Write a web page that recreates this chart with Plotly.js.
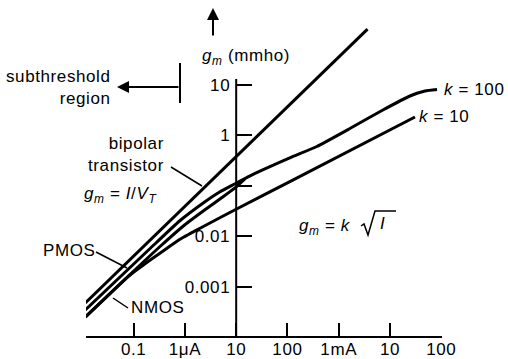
<!DOCTYPE html>
<html>
<head>
<meta charset="utf-8">
<script src="https://cdn.plot.ly/plotly-3.0.1.min.js"></script>
<style>html,body{margin:0;padding:0;background:#fff;}#chart{width:508px;height:359px;}</style>
</head>
<body>
<div id="chart"></div>
<script>
// Drain / collector current in µA, transconductance in mmho
var bipolarI = [0.0114, 3650];
var bipolarGm = [0.00048, 127];

// PMOS subthreshold curve continuing into the k = 100 square-law curve
var pmosI = [0.0114, 0.204, 0.785, 2.42, 4.75, 9.33];
var pmosGm = [0.00035, 0.0056, 0.0201, 0.0478, 0.0754, 0.1086];
var k100I = [18.3, 111, 374, 1650, 7280, 24500, 48200, 82800];
var k100Gm = [0.156, 0.356, 0.600, 1.36, 3.17, 6.0, 7.54, 8.07];

var nmosI = [0.0114, 0.0828, 0.319, 0.984, 2.42, 5.2, 9.33, 14.6];
var nmosGm = [0.000252, 0.00171, 0.00614, 0.01675, 0.0332, 0.058, 0.090, 0.136];

var k10I = [0.0114, 0.0757, 0.1135, 0.2037, 0.400, 0.785, 1.93, 9.33, 127, 30760];
var k10Gm = [0.000252, 0.00156, 0.00215, 0.00332, 0.00536, 0.00865, 0.01427, 0.0332, 0.130, 2.30];

var yAxisLineI = [10, 10];
var yAxisLineGm = [13, 0.0001];

var xTickVals = [0.1, 1, 10, 100, 1000, 10000, 100000];
var xTickText = ["0.1", "1\u03bcA", "10", "100", "1mA", "10", "100"];
var yTickVals = [10, 1, 0.1, 0.01, 0.001];
var yTickText = ["10", "1", "", "0.01", "0.001"];

var W = 508, H = 359, ML = 86, MR = 66, MT = 20, MB = 23;
var xRange = [-1.93, 5.015];
var yRange = [-3.974, 2.283];
function X(px) { return (px - ML) / (W - ML - MR); }
function Y(py) { return (H - MB - py) / (H - MT - MB); }

var FONT = "Liberation Sans, Arial, Helvetica, sans-serif";
var FS = 17;
function LS(s) { return '<span style="letter-spacing:0.6px">' + s + '</span>'; }

function curve(x, y, w) {
  return {x: x, y: y, type: 'scatter', mode: 'lines', hoverinfo: 'skip',
          line: {color: '#000', width: w, shape: 'spline', smoothing: 0.5}};
}
var traces = [
  curve(yAxisLineI, yAxisLineGm, 2),
  curve(bipolarI, bipolarGm, 3),
  curve(pmosI.concat(k100I), pmosGm.concat(k100Gm), 3),
  curve(nmosI, nmosGm, 3),
  curve(k10I, k10Gm, 3)
];

function txt(text, px, py, xanchor, align, size) {
  return {text: LS(text), x: X(px), y: Y(py), xref: 'paper', yref: 'paper',
          xanchor: xanchor || 'left', yanchor: 'middle', align: align || 'left',
          showarrow: false, font: {family: FONT, size: size || FS, color: '#000'}};
}
var annotations = [
  txt("<i>g</i><sub><i>m</i></sub> (mmho)", 200, 57),
  txt("subthreshold<br>region", 113, 87, 'right', 'right'),
  txt("bipolar<br>transistor", 166, 155, 'right', 'right'),
  txt("<i>g</i><sub><i>m</i></sub> = <i>I</i>/<i>V</i><sub><i>T</i></sub>", 82, 195),
  txt("PMOS", 41, 250),
  txt("NMOS", 129, 307),
  txt("<i>g</i><sub><i>m</i></sub> = <i>k</i>", 297, 227),
  txt("<i>I</i>", 382, 223, 'center', 'center'),
  txt("<i>k</i> = 100", 442, 90),
  txt("<i>k</i> = 10", 417, 117),
  {text: "", x: X(213), y: Y(8), xref: 'paper', yref: 'paper', showarrow: true,
   ax: 0, ay: 29, arrowhead: 2, arrowsize: 1.2, arrowwidth: 2, arrowcolor: '#000'},
  {text: "", x: X(117), y: Y(87), xref: 'paper', yref: 'paper', showarrow: true,
   ax: 63, ay: 0, arrowhead: 2, arrowsize: 1.2, arrowwidth: 2, arrowcolor: '#000'}
];

function seg(x0, y0, x1, y1, w) {
  return {type: 'line', xref: 'paper', yref: 'paper', x0: X(x0), y0: Y(y0), x1: X(x1), y1: Y(y1),
          line: {color: '#000', width: w}};
}
function poly(pts, w) {
  var d = pts.map(function (p, i) { return (i ? 'L' : 'M') + X(p[0]) + ',' + Y(p[1]); }).join(' ');
  return {type: 'path', xref: 'paper', yref: 'paper', path: d, line: {color: '#000', width: w}};
}
var shapes = [
  seg(180, 63, 180, 103, 2),
  seg(171, 167, 202, 186, 1.5),
  seg(96, 252, 127, 268, 1.5),
  seg(113, 298, 128, 308, 1.5),
  poly([[361, 226], [364, 224], [368, 235], [375, 211], [396, 211]], 1.5)
];

var layout = {
  width: W, height: H,
  margin: {l: ML, r: MR, t: MT, b: MB, pad: 0},
  paper_bgcolor: '#fff', plot_bgcolor: '#fff',
  showlegend: false,
  font: {family: FONT, size: FS, color: '#000'},
  xaxis: {type: 'log', range: xRange, tickmode: 'array', tickvals: xTickVals, ticktext: xTickText.map(LS),
          ticks: 'inside', ticklen: 13, tickwidth: 2, tickcolor: '#000', ticklabelstandoff: -3,
          showline: true, linewidth: 2, linecolor: '#000', showgrid: false, zeroline: false,
          tickfont: {family: FONT, size: FS, color: '#000'}, fixedrange: true},
  yaxis: {type: 'log', range: yRange, tickmode: 'array', tickvals: yTickVals, ticktext: yTickText.map(LS),
          ticks: 'inside', ticklen: 15, tickwidth: 2, tickcolor: '#000',
          showline: false, showgrid: false, zeroline: false, ticklabelstandoff: 6,
          anchor: 'free', position: (1 - xRange[0]) / (xRange[1] - xRange[0]),
          tickfont: {family: FONT, size: FS, color: '#000'}, fixedrange: true},
  annotations: annotations,
  shapes: shapes
};

Plotly.newPlot('chart', traces, layout, {displayModeBar: false, staticPlot: true});
</script>
</body>
</html>
